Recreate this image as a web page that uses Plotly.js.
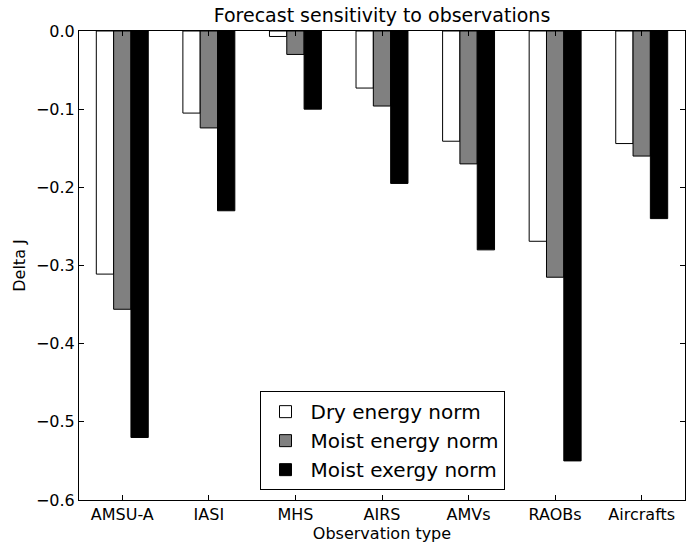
<!DOCTYPE html>
<html>
<head>
<meta charset="utf-8">
<script src="https://cdn.plot.ly/plotly-3.0.1.min.js"></script>
<style>html,body{margin:0;padding:0;background:#fff;}#chart{width:699px;height:544px;}</style>
</head>
<body>
<div id="chart"></div>
<script>
const categories = ["AMSU-A", "IASI", "MHS", "AIRS", "AMVs", "RAOBs", "Aircrafts"];
const dryEnergy = [-0.311, -0.105, -0.007, -0.073, -0.141, -0.269, -0.144];
const moistEnergy = [-0.356, -0.124, -0.030, -0.096, -0.170, -0.315, -0.160];
const moistExergy = [-0.520, -0.230, -0.100, -0.195, -0.280, -0.550, -0.240];
const seriesNames = ["Dry energy norm", "Moist energy norm", "Moist exergy norm"];
const yTicks = [0.0, -0.1, -0.2, -0.3, -0.4, -0.5, -0.6];

const FONT = "DejaVu Sans, sans-serif";
const colors = ["#ffffff", "#808080", "#000000"];
const traces = [dryEnergy, moistEnergy, moistExergy].map((vals, i) => ({
  type: "bar",
  name: seriesNames[i],
  x: categories,
  y: vals,
  marker: {color: colors[i], line: {color: "#000000", width: 1}}
}));

const layout = {
  width: 699, height: 544,
  margin: {l: 79, r: 14, t: 31, b: 44},
  paper_bgcolor: "#ffffff", plot_bgcolor: "#ffffff",
  font: {family: FONT, size: 16, color: "#000"},
  barmode: "group", bargap: 0.4, bargroupgap: 0,
  title: {text: "Forecast sensitivity to observations", font: {family: FONT, size: 19}, x: 0.5, xref: "paper", xanchor: "center", y: 18, yref: "container", yanchor: "middle"},
  xaxis: {
    type: "category", range: [-0.5, 6.5],
    showline: true, linecolor: "#000", linewidth: 1, mirror: "allticks",
    ticks: "inside", ticklen: 5, tickcolor: "#000",
    showgrid: false, zeroline: false,
    tickfont: {family: FONT, size: 16},
    title: {text: "Observation type", font: {family: FONT, size: 16}, standoff: 4}
  },
  yaxis: {
    range: [-0.6, 0.0], tickvals: yTicks, tickformat: ".1f",
    showline: true, linecolor: "#000", linewidth: 1, mirror: "allticks",
    ticks: "inside", ticklen: 5, tickcolor: "#000",
    showgrid: false, zeroline: false,
    tickfont: {family: FONT, size: 16},
    title: {text: "Delta J", font: {family: FONT, size: 16}, standoff: 6}
  },
  legend: {
    x: 0.5, xanchor: "center", y: 0.021, yanchor: "bottom",
    bordercolor: "#000", borderwidth: 1, bgcolor: "#fff",
    font: {family: FONT, size: 20}, itemwidth: 40
  },
  showlegend: true
};

Plotly.newPlot("chart", traces, layout, {staticPlot: true, displayModeBar: false});
</script>
</body>
</html>
